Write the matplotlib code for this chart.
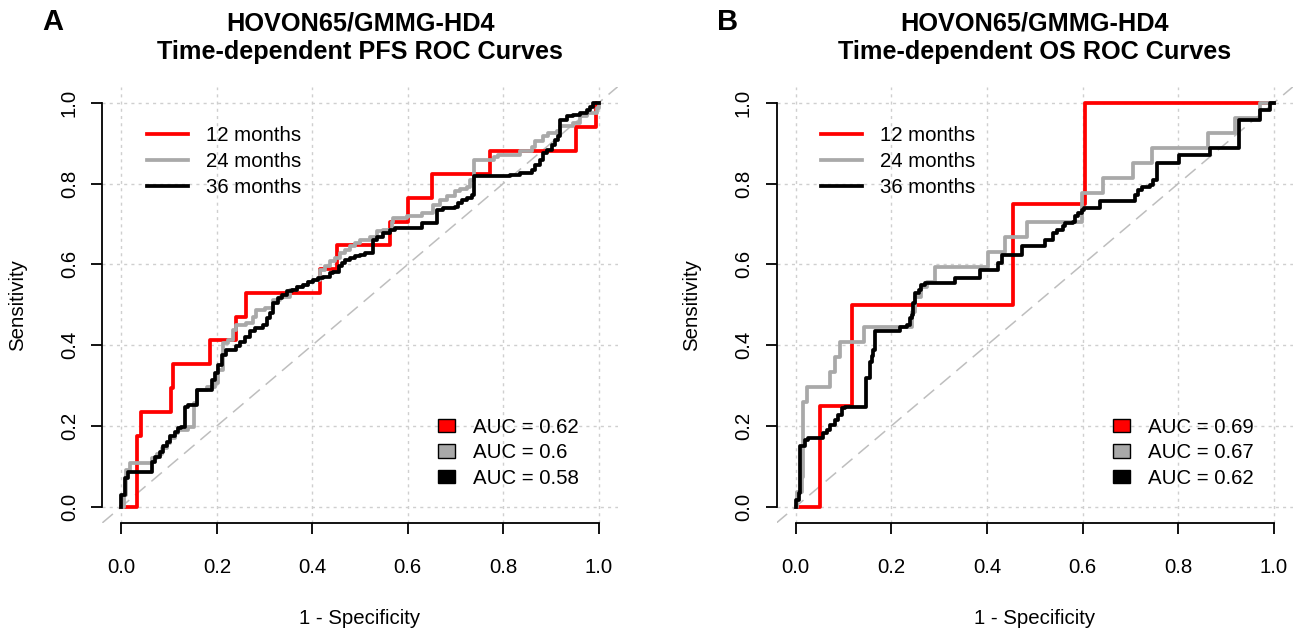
import matplotlib
matplotlib.use('Agg')
import matplotlib.pyplot as plt
from matplotlib.lines import Line2D
from matplotlib.patches import Patch

plt.rcParams['font.family'] = ['Liberation Sans', 'DejaVu Sans']

# ---------------- data ----------------
series_labels = ['12 months', '24 months', '36 months']
series_colors = ['#FF0000', '#A9A9A9', '#000000']
ticks = [0.0, 0.2, 0.4, 0.6, 0.8, 1.0]
tick_labels = ['0.0', '0.2', '0.4', '0.6', '0.8', '1.0']

# Panel A: PFS
pfs_12_fpr = [0, 0.033, 0.040, 0.103, 0.109, 0.186, 0.240, 0.262, 0.416, 0.451, 0.563, 0.601, 0.650, 0.773, 0.953, 0.995, 1.0]
pfs_12_tpr = [0, 0.176, 0.235, 0.294, 0.353, 0.412, 0.471, 0.529, 0.588, 0.647, 0.706, 0.765, 0.824, 0.882, 0.941, 1.0, 1.0]

pfs_24_fpr = [0, 0.005, 0.010, 0.017, 0.063, 0.074, 0.085, 0.095, 0.102, 0.112, 0.119, 0.140, 0.151, 0.158, 0.179,
              0.196, 0.203, 0.213, 0.224, 0.234, 0.241, 0.262, 0.276, 0.283, 0.301, 0.318, 0.332, 0.353, 0.367, 0.381,
              0.392, 0.402, 0.416, 0.427, 0.437, 0.448, 0.458, 0.469, 0.479, 0.490, 0.500, 0.521, 0.535, 0.549, 0.567,
              0.570, 0.598, 0.629, 0.654, 0.668, 0.682, 0.699, 0.710, 0.724, 0.731, 0.738, 0.780, 0.790, 0.835, 0.860,
              0.867, 0.884, 0.895, 0.912, 0.919, 0.947, 0.961, 0.975, 0.996, 1.0]
pfs_24_tpr = [0, 0.030, 0.090, 0.107, 0.120, 0.130, 0.145, 0.157, 0.170, 0.182, 0.190, 0.198, 0.256, 0.289, 0.297,
              0.306, 0.339, 0.405, 0.413, 0.438, 0.450, 0.455, 0.471, 0.488, 0.492, 0.512, 0.520, 0.537, 0.545, 0.549,
              0.557, 0.562, 0.587, 0.595, 0.608, 0.616, 0.628, 0.636, 0.645, 0.653, 0.661, 0.669, 0.682, 0.686, 0.706,
              0.715, 0.719, 0.727, 0.748, 0.760, 0.769, 0.781, 0.787, 0.793, 0.810, 0.859, 0.867, 0.872, 0.880, 0.892,
              0.905, 0.917, 0.925, 0.930, 0.942, 0.950, 0.967, 0.975, 0.987, 1.0]

pfs_36_fpr = [0, 0, 0.007, 0.013, 0.063, 0.070, 0.081, 0.088, 0.095, 0.102, 0.112, 0.119, 0.125, 0.133, 0.140,
              0.158, 0.189, 0.196, 0.203, 0.210, 0.220, 0.241, 0.248, 0.259, 0.269, 0.280, 0.297, 0.304, 0.311, 0.318,
              0.329, 0.336, 0.346, 0.357, 0.367, 0.381, 0.392, 0.402, 0.413, 0.423, 0.437, 0.444, 0.455, 0.462, 0.469,
              0.479, 0.490, 0.500, 0.511, 0.528, 0.535, 0.549, 0.563, 0.573, 0.629, 0.661, 0.675, 0.699, 0.706, 0.713,
              0.724, 0.735, 0.740, 0.815, 0.835, 0.860, 0.867, 0.877, 0.884, 0.891, 0.902, 0.909, 0.916, 0.919, 0.933,
              0.947, 0.961, 0.975, 0.982, 0.989, 1.0]
pfs_36_tpr = [0, 0.029, 0.070, 0.087, 0.111, 0.124, 0.136, 0.149, 0.161, 0.174, 0.186, 0.194, 0.198, 0.248, 0.252,
              0.289, 0.314, 0.330, 0.351, 0.376, 0.388, 0.397, 0.409, 0.421, 0.434, 0.442, 0.450, 0.467, 0.479, 0.504,
              0.516, 0.525, 0.533, 0.537, 0.545, 0.549, 0.557, 0.562, 0.566, 0.570, 0.578, 0.582, 0.595, 0.603, 0.612,
              0.616, 0.620, 0.624, 0.628, 0.661, 0.669, 0.677, 0.686, 0.690, 0.702, 0.735, 0.739, 0.743, 0.752, 0.760,
              0.764, 0.772, 0.818, 0.822, 0.826, 0.834, 0.847, 0.859, 0.876, 0.884, 0.896, 0.909, 0.917, 0.958, 0.967,
              0.971, 0.975, 0.983, 0.991, 1.0, 1.0]

pfs_auc = [0.62, 0.6, 0.58]

# Panel B: OS
os_12_fpr = [0, 0.051, 0.118, 0.455, 0.605, 1.0]
os_12_tpr = [0, 0.25, 0.5, 0.75, 1.0, 1.0]

os_24_fpr = [0, 0.003, 0.013, 0.016, 0.023, 0.072, 0.082, 0.093, 0.143, 0.243, 0.250, 0.263, 0.274, 0.291, 0.403,
             0.438, 0.483, 0.598, 0.642, 0.706, 0.745, 0.862, 0.919, 0.971, 1.0]
os_24_tpr = [0, 0.037, 0.074, 0.259, 0.296, 0.333, 0.370, 0.407, 0.444, 0.481, 0.519, 0.544, 0.556, 0.593, 0.630,
             0.667, 0.704, 0.778, 0.815, 0.852, 0.889, 0.926, 0.963, 1.0, 1.0]

os_36_fpr = [0, 0, 0.006, 0.009, 0.019, 0.026, 0.058, 0.065, 0.072, 0.082, 0.089, 0.096, 0.103, 0.148, 0.155,
             0.159, 0.162, 0.166, 0.218, 0.232, 0.239, 0.243, 0.246, 0.250, 0.257, 0.263, 0.270, 0.333, 0.386, 0.424,
             0.431, 0.473, 0.521, 0.539, 0.546, 0.560, 0.563, 0.581, 0.584, 0.591, 0.598, 0.602, 0.637, 0.710, 0.717,
             0.724, 0.741, 0.748, 0.755, 0.802, 0.866, 0.928, 0.971, 0.992, 1.0]
os_36_tpr = [0, 0.017, 0.033, 0.149, 0.165, 0.169, 0.182, 0.190, 0.202, 0.215, 0.227, 0.244, 0.248, 0.318, 0.359,
             0.372, 0.388, 0.434, 0.446, 0.450, 0.467, 0.475, 0.504, 0.529, 0.537, 0.549, 0.553, 0.566, 0.587, 0.603,
             0.624, 0.645, 0.661, 0.677, 0.686, 0.694, 0.702, 0.706, 0.719, 0.727, 0.735, 0.739, 0.756, 0.772, 0.785,
             0.793, 0.797, 0.810, 0.851, 0.872, 0.888, 0.958, 0.983, 1.0, 1.0]

os_auc = [0.69, 0.67, 0.62]

title_line1 = 'HOVON65/GMMG-HD4'
title_A = 'Time-dependent PFS ROC Curves'
title_B = 'Time-dependent OS ROC Curves'
xlabel = '1 - Specificity'
ylabel = 'Sensitivity'

# ---------------- figure ----------------
W, H = 1294, 632
fig = plt.figure(figsize=(W / 100, H / 100), dpi=100)
FS = 14.7
LW = 2.7

ax_bottom = (H - 522.8) / H
ax_height = 436 / H
axA = fig.add_axes([102.4 / W, ax_bottom, 515.2 / W, ax_height])
axB = fig.add_axes([776.6 / W, ax_bottom, 516.3 / W, ax_height])


def draw_panel(ax, curves, aucs, subtitle, letter, letter_x):
    ax.set_xlim(-0.04, 1.04)
    ax.set_ylim(-0.04, 1.04)
    ax.set_xticks(ticks)
    ax.set_yticks(ticks)
    ax.set_xticklabels(tick_labels, fontsize=FS)
    ax.set_yticklabels(tick_labels, fontsize=FS, rotation=90, va='center')
    ax.grid(True, color='#CFCFCF', linestyle=(0, (2.2, 3.0)), linewidth=1.0)
    ax.set_axisbelow(True)
    for s in ('top', 'right'):
        ax.spines[s].set_visible(False)
    for s in ('left', 'bottom'):
        ax.spines[s].set_bounds(0, 1)
        ax.spines[s].set_linewidth(1.3)
    ax.tick_params(axis='both', length=8, width=1.3, direction='out')
    ax.tick_params(axis='x', pad=17.5)
    ax.tick_params(axis='y', pad=9)

    ax.axline((0, 0), (1, 1), color='#BEBEBE', linestyle=(0, (9, 5)), linewidth=1.1, zorder=1)

    for (fx, ty), c in zip(curves, series_colors):
        ax.step(fx, ty, where='post', color=c, linewidth=LW, zorder=3)

    ax.set_xlabel(xlabel, fontsize=FS, va='center')
    ax.xaxis.set_label_coords(0.5, (522.8 - 618) / 436)
    ax.set_ylabel(ylabel, fontsize=FS, va='center')
    ax.yaxis.set_label_coords((18 - 102.4) / 515.2, 0.5)

    ax.set_title(title_line1 + '\n' + subtitle, fontsize=18.2, fontweight='bold', pad=20, linespacing=1.26)

    line_handles = [Line2D([], [], color=c, linewidth=LW) for c in series_colors]
    leg1 = ax.legend(line_handles, series_labels, loc='upper left', bbox_to_anchor=(0.086, 0.910),
                     frameon=False, borderpad=0, borderaxespad=0, handlelength=2.03, handletextpad=0.86,
                     labelspacing=0.35, fontsize=FS)
    ax.add_artist(leg1)
    box_handles = [Patch(facecolor=c, edgecolor='black', linewidth=1.0) for c in series_colors]
    ax.legend(box_handles, ['AUC = ' + str(v) for v in aucs], loc='upper left',
              bbox_to_anchor=(0.6514, 0.2415), frameon=False, borderpad=0, borderaxespad=0,
              handlelength=0.83, handleheight=0.63, handletextpad=0.88, labelspacing=0.33, fontsize=FS)

    fig.text(letter_x / W, 1 - 22 / H, letter, fontsize=21, fontweight='bold', ha='left', va='center')


draw_panel(axA, [(pfs_12_fpr, pfs_12_tpr), (pfs_24_fpr, pfs_24_tpr), (pfs_36_fpr, pfs_36_tpr)],
           pfs_auc, title_A, 'A', 42)
draw_panel(axB, [(os_12_fpr, os_12_tpr), (os_24_fpr, os_24_tpr), (os_36_fpr, os_36_tpr)],
           os_auc, title_B, 'B', 717)

fig.savefig('out.png', dpi=100)
